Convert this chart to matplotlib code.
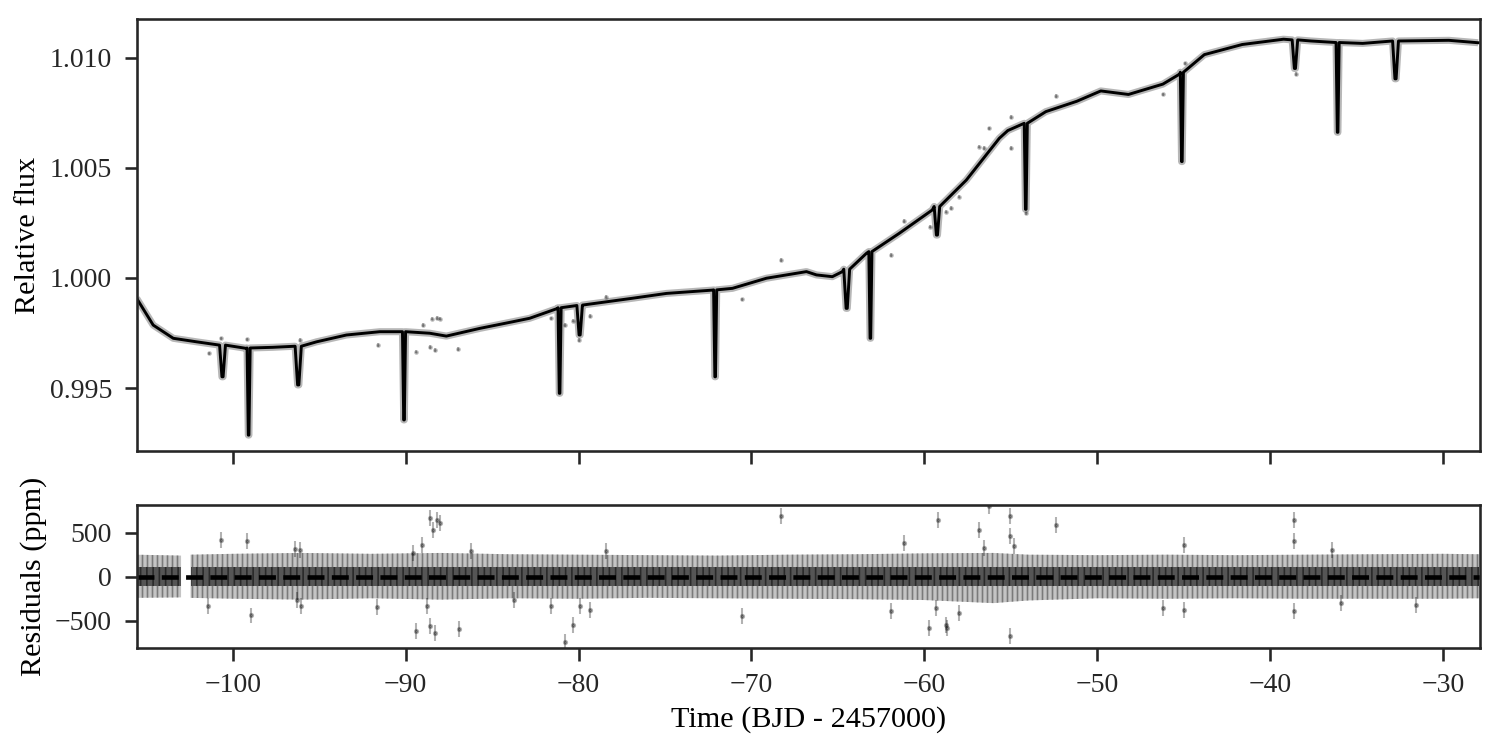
import numpy as np
import matplotlib
matplotlib.use("Agg")
import matplotlib.pyplot as plt

# ---- values ----
# slow stellar trend of the model (time, relative flux)
trend_t = [-105.57, -104.61, -103.45, -102.10, -100.75, -99.21, -97.69, -96.32, -95.16,
           -93.43, -91.50, -90.17, -88.61, -87.65, -85.72, -83.82, -82.83, -81.21,
           -79.77, -76.88, -74.91, -72.25, -71.10, -69.13, -66.82, -66.24, -65.32,
           -64.74, -63.35, -61.45, -59.54, -57.57, -55.66, -55.17, -54.17, -52.97,
           -51.18, -49.79, -48.19, -46.20, -45.20, -43.80, -41.61, -39.22, -37.63,
           -34.64, -32.64, -29.65, -27.96]
trend_f = [0.99908, 0.99786, 0.99726, 0.99710, 0.99695, 0.99680, 0.99685, 0.99688, 0.99710,
           0.99741, 0.99756, 0.99756, 0.99749, 0.99736, 0.99771, 0.99801, 0.99817, 0.99862,
           0.99877, 0.99908, 0.99930, 0.99945, 0.99953, 0.99999, 1.00029, 1.00014, 1.00006,
           1.00029, 1.00112, 1.00203, 1.00309, 1.00445, 1.00635, 1.00670, 1.00701, 1.00756,
           1.00803, 1.00850, 1.00834, 1.00881, 1.00928, 1.01015, 1.01061, 1.01085, 1.01077,
           1.01066, 1.01077, 1.01080, 1.01069]

# transits: mid time, out-of-transit level, in-transit minimum, duration (d)
tr_mid = [-100.60, -99.09, -96.22, -90.10, -81.10, -79.94, -72.10, -64.49, -63.12,
          -59.27, -54.13, -45.10, -38.56, -36.09, -32.74]
tr_top = [0.99695, 0.99682, 0.99690, 0.99756, 0.99865, 0.99875, 0.99946, 1.00040, 1.00120,
          1.00325, 1.00703, 1.00935, 1.01082, 1.01070, 1.01077]
tr_bot = [0.99551, 0.99286, 0.99514, 0.99355, 0.99476, 0.99741, 0.99551, 0.99862, 0.99726,
          1.00195, 1.00312, 1.00529, 1.00952, 1.00662, 1.00905]
tr_dur = [0.34, 0.18, 0.36, 0.18, 0.18, 0.32, 0.18, 0.34, 0.18,
          0.32, 0.18, 0.18, 0.32, 0.18, 0.34]

# stray flux points visible off the model
out_t = [-100.71, -99.2, -101.4, -96.1, -91.6, -89.0, -88.5, -88.2, -88.0, -89.4, -88.6,
         -88.3, -87.0, -81.58, -80.8, -80.33, -79.98, -79.36, -78.4, -70.54, -68.28,
         -61.93, -61.16, -59.7, -58.75, -58.46, -57.98, -56.82, -56.53, -56.28, -55.0,
         -55.0, -54.13, -52.38, -46.2, -44.9, -38.52]
out_f = [0.99726, 0.99721, 0.99658, 0.99718, 0.99695, 0.99786, 0.99815, 0.99818, 0.99815,
         0.99665, 0.99686, 0.99672, 0.99677, 0.99817, 0.99786, 0.99806, 0.99718, 0.99827,
         0.99915, 0.99903, 1.00082, 1.00105, 1.00260, 1.00233, 1.00302, 1.00317, 1.00370,
         1.00597, 1.00590, 1.00680, 1.00732, 1.00591, 1.00294, 1.00826, 1.00834, 1.00975,
         1.00928]

# residual outliers (ppm)
res_t = [-100.69, -99.19, -101.43, -98.98, -96.42, -96.09, -96.28, -96.07, -91.64, -89.06,
         -88.61, -88.41, -88.03, -88.22, -88.75, -89.38, -88.57, -88.32, -86.94, -86.2,
         -89.6, -83.76, -81.58, -80.81, -80.33, -79.94, -79.36, -78.4, -70.54, -68.28,
         -61.93, -61.16, -59.75, -59.23, -59.3, -58.75, -58.67, -58.02, -56.82, -56.53,
         -56.28, -55.03, -55.03, -55.05, -54.8, -52.39, -44.97, -46.22, -44.97, -38.61,
         -38.61, -38.6, -36.4, -35.92, -31.55]
res_v = [413, 402, -330, -440, 314, 307, -261, -337, -345, 364,
         667, 534, 610, 648, -330, -621, -557, -640, -595, 288,
         269, -261, -337, -746, -545, -337, -375, 288, -451, 686,
         -394, 383, -583, 648, -356, -545, -583, -413, 534, 326,
         807, 686, 458, -678, 345, 591, 364, -356, -375, 648,
         402, -394, 307, -299, -318]

# residual scatter envelope (ppm): outer extent and dense core
env_t = [-105.6, -103.0, -102.45, -100, -96, -92, -88, -84, -80, -76, -72, -68,
         -64, -60, -56, -54, -50, -46, -42, -38, -34, -30, -27.9]
env_hi = [250, 240, 250, 260, 270, 260, 270, 255, 250, 245, 240, 250,
          255, 265, 270, 250, 245, 250, 245, 250, 255, 260, 255]
env_lo = [-240, -235, -240, -250, -260, -245, -260, -245, -250, -240, -245, -250,
          -255, -265, -300, -270, -245, -250, -245, -250, -250, -250, -245]
core = 110
gap = (-103.0, -102.45)

# ---- build model polyline ----
keep = [all(abs(t - m) > d / 2 for m, d in zip(tr_mid, tr_dur)) for t in trend_t]
mt = [t for t, k in zip(trend_t, keep) if k]
mf = [f for f, k in zip(trend_f, keep) if k]
for m, top, bot, d in zip(tr_mid, tr_top, tr_bot, tr_dur):
    mt += [m - d / 2, m - d / 10, m + d / 10, m + d / 2]
    mf += [top, bot, bot, top]
order = np.argsort(mt)
mt = np.array(mt)[order]
mf = np.array(mf)[order]

plt.rcParams["font.family"] = ["Liberation Serif", "DejaVu Serif"]
plt.rcParams["font.size"] = 13.3
plt.rcParams["axes.labelsize"] = 14.5
plt.rcParams["axes.edgecolor"] = "#262626"
plt.rcParams["axes.linewidth"] = 1.25
plt.rcParams["hatch.linewidth"] = 0.8
for a in ("xtick", "ytick"):
    plt.rcParams[f"{a}.major.size"] = 6
    plt.rcParams[f"{a}.major.width"] = 1.25
    plt.rcParams[f"{a}.major.pad"] = 6
    plt.rcParams[f"{a}.color"] = "#262626"
    plt.rcParams[f"{a}.labelcolor"] = "#262626"

fig = plt.figure(figsize=(10, 5), dpi=150)
ax1 = fig.add_axes([0.0913, 0.3987, 0.8954, 0.576])
ax2 = fig.add_axes([0.0913, 0.136, 0.8954, 0.1907], sharex=ax1)

ax1.plot(mt, mf, color="0.3", lw=3.4, alpha=0.4, solid_capstyle="butt")
ax1.errorbar(out_t, out_f, yerr=0.00008, fmt=".", color="k", ms=2.5, alpha=0.25, lw=0.8)
ax1.plot(mt, mf, color="k", lw=1.4)
ax1.set_ylim(0.99214, 1.01177)
ax1.set_yticks([0.995, 1.000, 1.005, 1.010])
ax1.set_yticklabels(["0.995", "1.000", "1.005", "1.010"])
ax1.set_ylabel("Relative flux")
ax1.tick_params(labelbottom=False)

et = np.array(env_t)
hi = np.array(env_hi)
lo = np.array(env_lo)
for seg in (et <= gap[0], et >= gap[1]):
    ax2.fill_between(et[seg], lo[seg], hi[seg], facecolor="#c4c4c4",
                     edgecolor="#7a7a7a", hatch="|||||", lw=0)
    ax2.fill_between(et[seg], -core, core, facecolor="#555555",
                     edgecolor="#2a2a2a", hatch="||||", lw=0)
ax2.errorbar(res_t, res_v, yerr=90, fmt=".", color="k", ms=3, alpha=0.3, lw=1)
ax2.axhline(0, color="k", ls="--", lw=2.2)
ax2.set_ylim(-810, 815)
ax2.set_yticks([-500, 0, 500])
ax2.set_ylabel("Residuals (ppm)")
ax2.set_xlim(-105.55, -27.85)
ax2.set_xticks(np.arange(-100, -20, 10))
ax2.set_xlabel("Time (BJD - 2457000)")
fig.align_ylabels([ax1, ax2])

fig.savefig("out.png", dpi=150)
